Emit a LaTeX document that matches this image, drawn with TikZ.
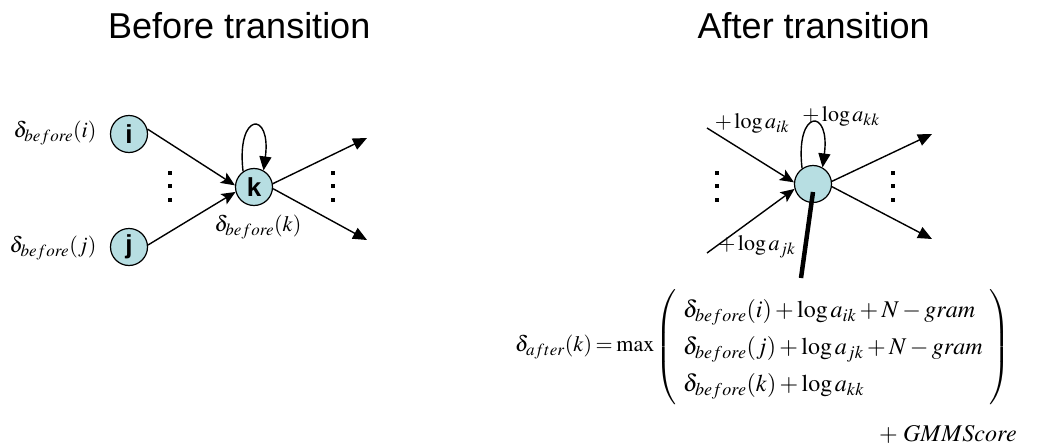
\documentclass[tikz,border=0pt]{standalone}
\usepackage{mathptmx}
\usepackage{fontspec}
\setmainfont{Liberation Serif}
\newfontfamily\arial{Liberation Sans}
\DeclareMathSizes{22}{22}{17}{13}
\DeclareMathSizes{24}{24}{18}{14}
\usetikzlibrary{arrows.meta}
\definecolor{nodefill}{RGB}{183,222,226}
\begin{document}
\begin{tikzpicture}[x=1pt,y=-1pt,
  state/.style={circle,draw,line width=1.2pt,fill=nodefill,minimum size=37pt,inner sep=0pt,font=\arial\bfseries\fontsize{26}{26}\selectfont},
  conn/.style={line width=1.4pt},
  tri/.style={conn,-{Triangle[length=14pt,width=12pt]}},
  stl/.style={conn,-{Stealth[length=14pt,width=12pt,inset=3pt]}},
  lbl/.style={inner sep=0pt,font=\fontsize{22}{26}\selectfont},
  eqlbl/.style={inner sep=0pt,font=\fontsize{24}{28}\selectfont},
  ttl/.style={font=\arial\fontsize{36}{40}\selectfont,inner sep=0pt},
  thick line/.style={line width=4.5pt}]
\useasboundingbox (0,0) rectangle (1041,444);
% titles
\node[ttl,anchor=base west] (t1) at (108,39) {Before transition};
\node[ttl,anchor=base east] (t2) at (930,39) {After transition};
% left diagram
\node[state] (i) at (129,134) {i};
\node[state] (j) at (129,247) {j};
\node[state] (k) at (254,187) {k};
\coordinate (ka) at (367,138);
\coordinate (kb) at (367,240);
\draw[stl] (i.15) -- (k.175);
\draw[stl] (j.6) -- (k.195);
\draw[tri] (k.10) -- (ka);
\draw[tri] (k.355) -- (kb);
\draw[tri] (k.125) .. controls +(-7,-60) and +(8,-60) .. (k.60);
\foreach \y in {173,186,200}{\fill (168,\y-2) rectangle +(4,4);}
\foreach \y in {173,186,200}{\fill (331,\y-2) rectangle +(4,4);}
\node[lbl] (li) at (55,133) {$\delta_{before}(i)$};
\node[lbl] (lj) at (53,248) {$\delta_{before}(j)$};
\node[lbl] (lk) at (258,227) {$\delta_{before}(k)$};
% right diagram
\node[state] (r) at (813,184) {};
\coordinate (ia) at (707,128);
\coordinate (ja) at (707,253);
\coordinate (oa) at (932,134);
\coordinate (ob) at (932,239);
\coordinate (thk) at (801,278);
\draw[stl] (ia) -- (r.175);
\draw[stl] (ja) -- (r.195);
\draw[tri] (r.8) -- (oa);
\draw[tri] (r.352) -- (ob);
\draw[tri] (r.125) .. controls +(-7,-60) and +(8,-60) .. (r.60);
\draw[thick line] ([yshift=-8pt]r.center) -- (thk);
\foreach \y in {173,186,200}{\fill (715,\y-2) rectangle +(4,4);}
\foreach \y in {173,186,200}{\fill (891,\y-2) rectangle +(4,4);}
\node[lbl] (lik) at (752,123) {$+\log a_{ik}$};
\node[lbl] (lkk) at (841,116) {$+\log a_{kk}$};
\node[lbl] (ljk) at (757,247) {$+\log a_{jk}$};
% equation
\node[lbl,anchor=west] (lhs) at (515,347) {$\delta_{after}(k)\mkern3mu{=}\mkern3mu{\max}$};
\node[eqlbl,anchor=west] (rhs) at (655,347) {\renewcommand\arraystretch{1.32}\setlength\arraycolsep{7pt}$\left(\begin{array}{l}\delta_{before}(i)+\log a_{ik}+N-gram\\ \delta_{before}(j)+\log a_{jk}+N-gram\\ \delta_{before}(k)+\log a_{kk}\end{array}\right)$};
\node[eqlbl,anchor=east] (gmm) at (1017,434) {$+\;GMMScore$};
\end{tikzpicture}
\end{document}
